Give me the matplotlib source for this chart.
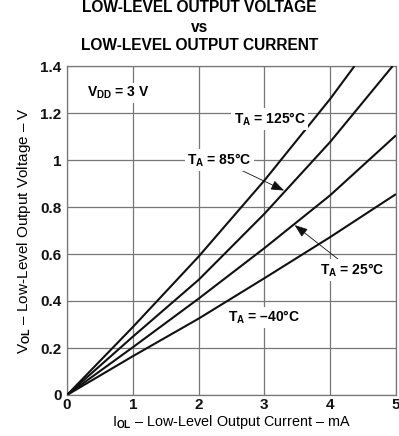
import matplotlib.pyplot as plt

plt.rcParams['font.family'] = ['Liberation Sans', 'DejaVu Sans']
plt.rcParams['font.weight'] = 'bold'
plt.rcParams['mathtext.fontset'] = 'custom'
plt.rcParams['mathtext.rm'] = 'Liberation Sans:bold'
plt.rcParams['mathtext.it'] = 'Liberation Sans:bold'
plt.rcParams['mathtext.bf'] = 'Liberation Sans:bold'

# valores (corrente em mA, tensão em V)
i_m40 = [0, 1, 2, 3, 4, 5]
v_m40 = [0, 0.165, 0.325, 0.497, 0.672, 0.855]

i_25 = [0, 1, 2, 3, 4, 5]
v_25 = [0, 0.203, 0.41, 0.625, 0.85, 1.105]

i_85 = [0, 1, 2, 3, 4, 4.95]
v_85 = [0, 0.248, 0.49, 0.771, 1.077, 1.4]

i_125 = [0, 1, 2, 3, 4, 4.37]
v_125 = [0, 0.289, 0.589, 0.913, 1.26, 1.4]

x_ticks = [0, 1, 2, 3, 4, 5]
y_ticks = [0, 0.2, 0.4, 0.6, 0.8, 1.0, 1.2, 1.4]
y_tick_labels = ['0', '0.2', '0.4', '0.6', '0.8', '1', '1.2', '1.4']

fig = plt.figure(figsize=(3.99, 4.36), dpi=100)
ax = fig.add_axes([67 / 399, 1 - 395 / 436, 329 / 399, 329 / 436])

for xs, ys in [(i_m40, v_m40), (i_25, v_25), (i_85, v_85), (i_125, v_125)]:
    ax.plot(xs, ys, color='#111111', lw=1.5, solid_capstyle='butt', zorder=3)

ax.set_xlim(0, 5)
ax.set_ylim(0, 1.4)
ax.set_xticks(x_ticks)
ax.set_yticks(y_ticks)
ax.set_yticklabels(y_tick_labels)
ax.tick_params(length=0, labelsize=11, pad=4, colors='#111111')
ax.tick_params(axis='x', pad=2)
ax.grid(True, color='#777777', lw=0.9)
ax.set_axisbelow(True)
for s in ax.spines.values():
    s.set_color('#777777')
    s.set_linewidth(0.9)

ax.set_xlabel('I$_\\mathrm{OL}$ – Low-Level Output Current – mA', fontsize=10.4, labelpad=1)
ax.set_ylabel('V$_\\mathrm{OL}$ – Low-Level Output Voltage – V', fontsize=11, labelpad=5)

fig.text(0.5, 1 - 8 / 436, 'LOW-LEVEL OUTPUT VOLTAGE', ha='center', va='center', fontsize=11.2)
fig.text(0.5, 1 - 27 / 436, 'vs', ha='center', va='center', fontsize=11.2)
fig.text(0.5, 1 - 46 / 436, 'LOW-LEVEL OUTPUT CURRENT', ha='center', va='center', fontsize=11.2)

box = dict(facecolor='white', edgecolor='none', pad=1.5)
ax.text(0.31, 1.285, 'V$_\\mathrm{DD}$ = 3 V', ha='left', va='center', fontsize=10, bbox=box)
ax.text(3.08, 1.174, 'T$_\\mathrm{A}$ = 125°C', ha='center', va='center', fontsize=10, bbox=box)
ax.text(3.0, 0.33, 'T$_\\mathrm{A}$ = –40°C', ha='center', va='center', fontsize=10, bbox=box)

arrow = dict(arrowstyle='-|>,head_length=0.8,head_width=0.3', color='#111111', lw=0.6, shrinkA=0, shrinkB=0)
ax.annotate('T$_\\mathrm{A}$ = 85°C', xy=(3.3, 0.87), xytext=(2.32, 1.0), ha='center', va='center',
            fontsize=10, bbox=box, arrowprops=arrow)
ax.annotate('T$_\\mathrm{A}$ = 25°C', xy=(3.46, 0.723), xytext=(4.33, 0.532), ha='center', va='center',
            fontsize=10, bbox=box, arrowprops=arrow)

fig.savefig('out.png', dpi=100)
